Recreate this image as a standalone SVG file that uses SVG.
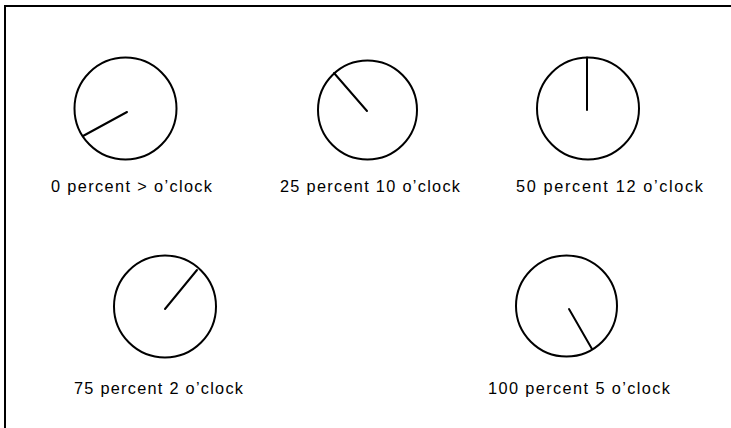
<svg xmlns="http://www.w3.org/2000/svg" width="731" height="428" viewBox="0 0 731 428">
<style>
.face{fill:none;stroke:#000;stroke-width:2}
.hand{stroke:#000;stroke-width:2;stroke-linecap:round}
.lbl{font-family:"Liberation Sans",Arial,sans-serif;font-size:16.3px;fill:#000}
.frame{fill:none;stroke:#000;stroke-width:2}
</style>
<rect width="731" height="428" fill="#fff"/>
<rect class="frame" x="5" y="6" width="800" height="500"/>
<g id="clock-0">
<circle class="face" cx="125.5" cy="108.5" r="51"/>
<line class="hand" x1="127" y1="112" x2="83" y2="136"/>
<text class="lbl" x="51" y="192" textLength="161" lengthAdjust="spacing">0 percent &gt; o’clock</text>
</g>
<g id="clock-25">
<circle class="face" cx="367.5" cy="110" r="49.5"/>
<line class="hand" x1="367" y1="111" x2="334" y2="73"/>
<text class="lbl" x="280" y="192" textLength="180" lengthAdjust="spacing">25 percent 10 o’clock</text>
</g>
<g id="clock-50">
<circle class="face" cx="588" cy="108.5" r="51"/>
<line class="hand" x1="587" y1="110" x2="587" y2="57.5"/>
<text class="lbl" x="516" y="192" textLength="187" lengthAdjust="spacing">50 percent 12 o’clock</text>
</g>
<g id="clock-75">
<circle class="face" cx="165" cy="306.5" r="51"/>
<line class="hand" x1="165" y1="309" x2="197" y2="270"/>
<text class="lbl" x="74" y="394" textLength="169" lengthAdjust="spacing">75 percent 2 o’clock</text>
</g>
<g id="clock-100">
<circle class="face" cx="566.5" cy="306" r="50.5"/>
<line class="hand" x1="569" y1="309" x2="592" y2="349"/>
<text class="lbl" x="488" y="394" textLength="182" lengthAdjust="spacing">100 percent 5 o’clock</text>
</g>
<g id="connectors"></g>
</svg>
